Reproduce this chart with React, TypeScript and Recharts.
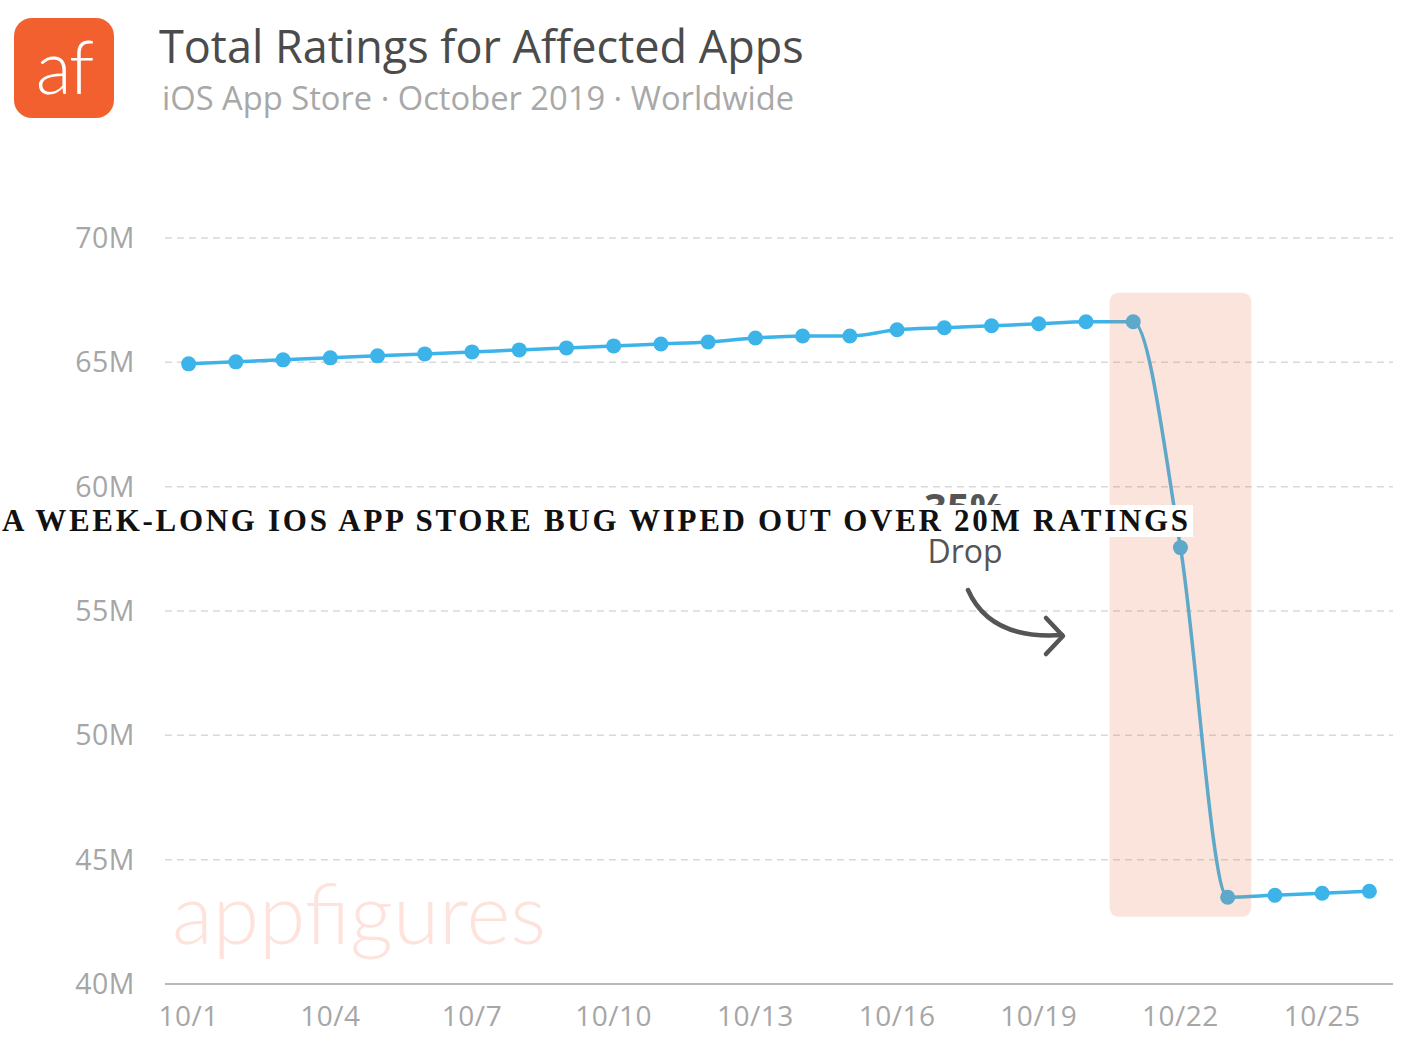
import React from 'react';
import { LineChart, Line, XAxis, YAxis, CartesianGrid, ReferenceArea } from 'recharts';

// October 2019, day of month
const days = [1, 2, 3, 4, 5, 6, 7, 8, 9, 10, 11, 12, 13, 14, 15, 16, 17, 18, 19, 20, 21, 22, 23, 24, 25, 26];
// total ratings in millions
const ratings = [
  64.94, 65.02, 65.1, 65.18, 65.26, 65.34, 65.42, 65.5, 65.58, 65.66, 65.74, 65.82, 65.98,
  66.06, 66.06, 66.31, 66.39, 66.47, 66.55, 66.63, 66.63, 57.55, 43.49, 43.57, 43.65, 43.73,
];
const xTicks = [1, 4, 7, 10, 13, 16, 19, 22, 25];
const yTicks = [40, 45, 50, 55, 60, 65, 70];
// the bug window that gets highlighted
const bugWindow = [20.5, 23.5];
const bugRange = [42.7, 67.8];

const data = days.map((d, i) => ({ day: d, ratings: ratings[i] }));

const FONT = '"Open Sans", "Noto Sans", sans-serif';
const BLUE = '#3cb4e9';

const HighlightShape = (p: any) => (
  <rect x={p.x} y={p.y} width={p.width} height={p.height} rx={9} ry={9} fill="#e67850" fillOpacity={0.2} />
);

export default function App() {
  return (
    <div style={{ position: 'absolute', left: 0, top: 0, width: 1422, height: 1058, background: '#fff', overflow: 'hidden' }}>
      {/* header */}
      <div
        style={{
          position: 'absolute', left: 14, top: 18, width: 100, height: 100, borderRadius: 18,
          background: '#f3602f', color: '#fff', fontFamily: 'Lato, sans-serif', fontWeight: 300,
          fontSize: 74, lineHeight: '96px', textAlign: 'center', letterSpacing: -2,
        }}
      >
        af
      </div>
      <div style={{ position: 'absolute', left: 159, top: 16, fontFamily: FONT, fontSize: 45, color: '#4b4b4b', whiteSpace: 'nowrap', lineHeight: '60px' }}>
        Total Ratings for Affected Apps
      </div>
      <div style={{ position: 'absolute', left: 162, top: 76, fontFamily: FONT, fontSize: 32.7, color: '#a8a8a8', whiteSpace: 'nowrap', lineHeight: '44px' }}>
        iOS App Store · October 2019 · Worldwide
      </div>

      {/* watermark */}
      <div style={{ position: 'absolute', left: 172, top: 862, fontFamily: 'Lato, sans-serif', fontWeight: 300, fontSize: 84, color: '#fde3dc', whiteSpace: 'nowrap', lineHeight: '100px' }}>
        appfigures
      </div>

      <div style={{ position: 'absolute', left: 0, top: 0 }}>
        <LineChart width={1422} height={1058} data={data} margin={{ top: 238, right: 29, bottom: 44, left: 65 }}>
          <CartesianGrid vertical={false} stroke="#d9d9d9" strokeDasharray="7 5" strokeWidth={1.5} />
          <XAxis
            dataKey="day"
            type="number"
            domain={[0.5, 26.5]}
            ticks={xTicks}
            allowDataOverflow
            tickFormatter={(v) => `10/${v}`}
            tickLine={false}
            tickSize={0}
            tickMargin={22}
            axisLine={{ stroke: '#b8b8b8', strokeWidth: 2 }}
            tick={{ fill: '#a6a6a6', fontSize: 28, fontFamily: FONT, letterSpacing: 0.5 }}
          />
          <YAxis
            width={100}
            domain={[40, 70]}
            ticks={yTicks}
            tickFormatter={(v) => `${v}M`}
            tickLine={false}
            axisLine={false}
            tickSize={0}
            tickMargin={30}
            tick={{ fill: '#a6a6a6', fontSize: 28.5, fontFamily: FONT, letterSpacing: 0.5 }}
          />
          <Line
            type="monotone"
            dataKey="ratings"
            stroke={BLUE}
            strokeWidth={3.5}
            dot={{ r: 7.5, fill: BLUE, stroke: BLUE, strokeWidth: 0 }}
            activeDot={false}
            isAnimationActive={false}
          />
          <ReferenceArea
            x1={bugWindow[0]}
            x2={bugWindow[1]}
            y1={bugRange[0]}
            y2={bugRange[1]}
            shape={HighlightShape}
            zIndex={1000}
          />
        </LineChart>
      </div>

      {/* annotation */}
      <div style={{ position: 'absolute', left: 885, top: 483, width: 160, textAlign: 'center', fontFamily: FONT, color: '#555', whiteSpace: 'nowrap' }}>
        <div style={{ fontSize: 40, fontWeight: 700, lineHeight: '48px' }}>35%</div>
        <div style={{ fontSize: 32, lineHeight: '40px' }}>Drop</div>
      </div>
      <svg width={1422} height={1058} style={{ position: 'absolute', left: 0, top: 0, pointerEvents: 'none' }}>
        <path d="M968,590 Q990,640 1062,635" fill="none" stroke="#555" strokeWidth={4.5} strokeLinecap="round" />
        <path d="M1046,618 L1063,636 L1046,654" fill="none" stroke="#555" strokeWidth={4.5} strokeLinecap="round" strokeLinejoin="round" />
      </svg>

      {/* overlaid caption */}
      <div
        style={{
          position: 'absolute', left: 0, top: 505, height: 32, background: '#fff', padding: '0 2px',
          fontFamily: '"Liberation Serif", "DejaVu Serif", serif', fontWeight: 700, fontSize: 31,
          lineHeight: '32px', color: '#111', whiteSpace: 'nowrap', letterSpacing: 2.7,
        }}
      >
        A WEEK-LONG IOS APP STORE BUG WIPED OUT OVER 20M RATINGS
      </div>
    </div>
  );
}
